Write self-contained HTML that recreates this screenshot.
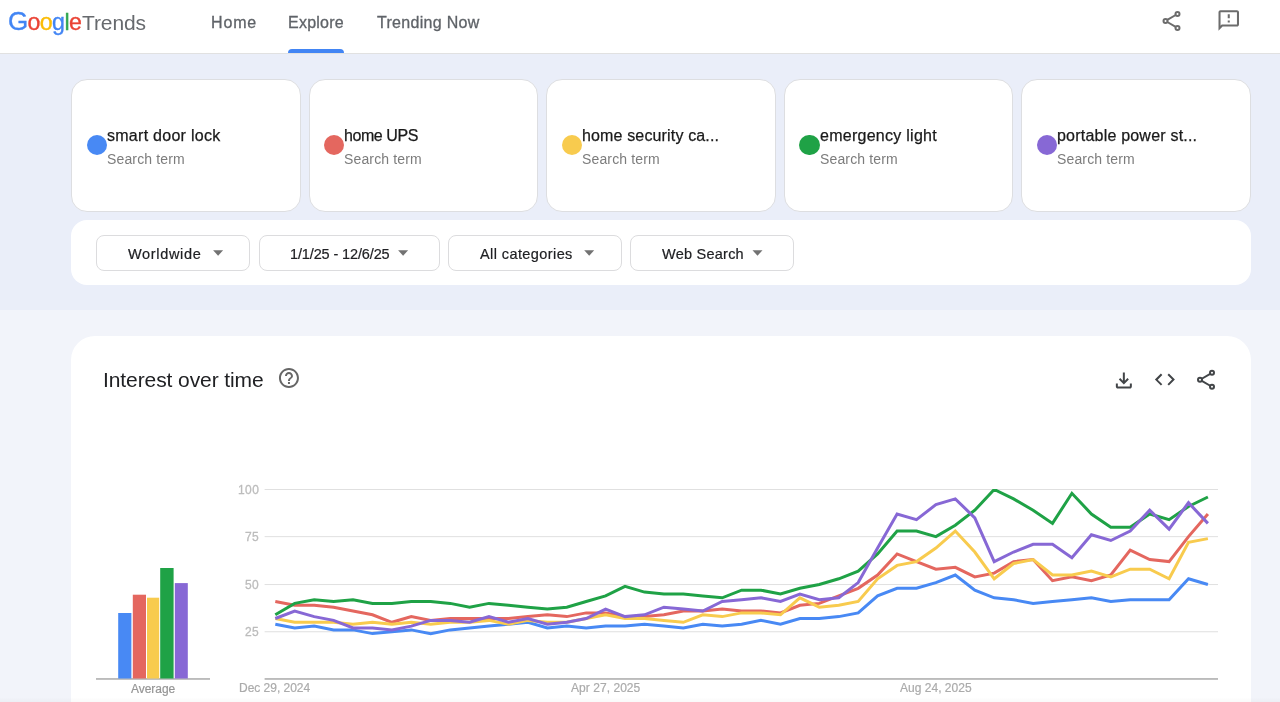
<!DOCTYPE html>
<html lang="en">
<head>
<meta charset="utf-8">
<title>Google Trends - Explore</title>
<style>
*{box-sizing:border-box;margin:0;padding:0}
html,body{width:1280px;height:702px;overflow:hidden}
body{position:relative;background:#f2f4fa;font-family:"Liberation Sans",sans-serif;color:#202124}
.t{position:absolute;white-space:nowrap;line-height:1;font-family:"Liberation Sans",sans-serif;transform:rotate(0.0001deg);transform-origin:0 0}
header{position:absolute;left:0;top:0;width:1280px;height:54px;background:#fff;border-bottom:1px solid #e1e1e1}
.uline{position:absolute;left:288.1px;top:49.3px;width:55.6px;height:4px;background:#4285f4;border-radius:4px 4px 0 0}
.band{position:absolute;left:0;top:54px;width:1280px;height:256px;background:#eaeef9}
.card{position:absolute;top:79px;width:229.6px;height:132.6px;background:#fff;border:1px solid #dddee1;border-radius:16px}
.dot{position:absolute;top:135px;width:20.3px;height:20.3px;border-radius:50%}
.fbar{position:absolute;left:71px;top:220px;width:1180px;height:65.3px;background:#fff;border-radius:16px}
.fbtn{position:absolute;top:235px;height:35.6px;border:1px solid #dcdcde;border-radius:8px;background:#fff}
.arr{position:absolute;top:250.4px;width:0;height:0;border-left:5px solid transparent;border-right:5px solid transparent;border-top:5.4px solid #757575}
.panel{position:absolute;left:71px;top:335.5px;width:1180px;height:400px;background:#fff;border-radius:24px}
.chart{position:absolute;left:0;top:0}
.ico{position:absolute;overflow:visible}
</style>
</head>
<body>
<header>
<div class="t" style="left:8.00px;top:11.33px;font-size:23.2px;letter-spacing:-0.64px"><span style="color:#4285f4;-webkit-text-stroke:0.35px #4285f4;font-size:26px;line-height:0">G</span><span style="color:#ea4335;-webkit-text-stroke:0.35px #ea4335">o</span><span style="color:#fbbc05;-webkit-text-stroke:0.35px #fbbc05">o</span><span style="color:#4285f4;-webkit-text-stroke:0.35px #4285f4">g</span><span style="color:#34a853;-webkit-text-stroke:0.35px #34a853">l</span><span style="color:#ea4335;-webkit-text-stroke:0.35px #ea4335">e</span></div>
<div class="t" style="left:82.02px;top:12.10px;font-size:21px;letter-spacing:-0.1px;color:#676a6e;">Trends</div>
<div class="t" style="left:210.67px;top:15.00px;font-size:16px;letter-spacing:0.86px;color:#5f6368;-webkit-text-stroke:0.3px #5f6368;">Home</div>
<div class="t" style="left:288.27px;top:15.00px;font-size:16px;letter-spacing:0.24px;color:#5f6368;-webkit-text-stroke:0.3px #5f6368;">Explore</div>
<div class="t" style="left:377.23px;top:15.00px;font-size:16px;letter-spacing:0.3px;color:#5f6368;-webkit-text-stroke:0.3px #5f6368;">Trending Now</div>
<div class="uline"></div>
<svg class="ico" style="left:1159px;top:8px" width="25" height="25" viewBox="0 0 25 25" fill="none" stroke="#6c6c6c" stroke-width="2"><g transform="translate(0.5 0.95)"><circle cx="18" cy="5" r="2"/><circle cx="6" cy="12" r="2"/><circle cx="18" cy="19" r="2"/><path d="M7.8 10.95L16.2 6.05M7.8 13.05L16.2 17.95"/></g></svg>
<svg class="ico" style="left:1216px;top:8px" width="25" height="25" viewBox="0 0 25 25" fill="#6c6c6c"><g transform="translate(0.75 0.3)"><path transform="translate(-0.3 -0.2) scale(1.025)" d="M20 2H4c-1.1 0-1.99.9-1.99 2L2 22l4-4h14c1.1 0 2-.9 2-2V4c0-1.1-.9-2-2-2zm0 14H5.17l-.59.59-.58.58V4h16v12zm-9-4h2v2h-2zm0-6h2v4h-2z"/></g></svg>
</header>
<div class="band"></div>
<div class="card" style="left:71.0px"></div><div class="dot" style="left:86.5px;background:#4889f4"></div>
<div class="card" style="left:308.6px"></div><div class="dot" style="left:324.1px;background:#e4675f"></div>
<div class="card" style="left:546.2px"></div><div class="dot" style="left:561.7px;background:#f8cb4e"></div>
<div class="card" style="left:783.8px"></div><div class="dot" style="left:799.3px;background:#1fa246"></div>
<div class="card" style="left:1021.4px"></div><div class="dot" style="left:1036.9px;background:#8768d5"></div>
<div class="fbar"></div>
<div class="fbtn" style="left:96.0px;width:154.3px"></div><svg class="ico" style="left:213px;top:250px" width="11" height="7" viewBox="0 0 11 7" fill="#727272"><g transform="translate(0.1 0.15)"><path d="M0 0h10L5 5.7z"/></g></svg>
<div class="fbtn" style="left:258.8px;width:180.9px"></div><svg class="ico" style="left:398px;top:250px" width="11" height="7" viewBox="0 0 11 7" fill="#727272"><g transform="translate(0.1 0.15)"><path d="M0 0h10L5 5.7z"/></g></svg>
<div class="fbtn" style="left:448.1px;width:173.5px"></div><svg class="ico" style="left:584px;top:250px" width="11" height="7" viewBox="0 0 11 7" fill="#727272"><g transform="translate(0.2 0.15)"><path d="M0 0h10L5 5.7z"/></g></svg>
<div class="fbtn" style="left:630.4px;width:163.4px"></div><svg class="ico" style="left:752px;top:250px" width="11" height="7" viewBox="0 0 11 7" fill="#727272"><g transform="translate(0.5 0.15)"><path d="M0 0h10L5 5.7z"/></g></svg>
<div class="panel"></div>
<svg class="ico" style="left:276px;top:366px" width="25" height="25" viewBox="0 0 25 25" fill="#666666"><g transform="translate(0.95 0.0)"><path d="M11 18h2v-2h-2v2zm1-16C6.48 2 2 6.48 2 12s4.48 10 10 10 10-4.48 10-10S17.520 2 12 2zm0 18c-4.410 0-8-3.590-8-8s3.590-8 8-8 8 3.590 8 8-3.590 8-8 8zm0-14c-2.210 0-4 1.790-4 4h2c0-1.100.9-2 2-2s2 .9 2 2c0 2-3 1.750-3 5h2c0-2.250 3-2.500 3-5 0-2.210-1.790-4-4-4z"/></g></svg>
<svg class="ico" style="left:1111px;top:368px" width="25" height="25" viewBox="0 0 25 25" fill="#424548"><g transform="translate(0.85 0.55)"><path d="M12 16l-5-5 1.4-1.45 2.6 2.6V4h2v8.15l2.6-2.6L17 11zm-6 4q-.825 0-1.412-.587Q4 18.825 4 18v-3h2v3h12v-3h2v3q0 .825-.587 1.413Q18.825 20 18 20z"/></g></svg>
<svg class="ico" style="left:1152px;top:367px" width="25" height="25" viewBox="0 0 25 25" fill="#424548"><g transform="translate(0.9 0.6)"><path d="M8 18l-6-6 6-6 1.425 1.425-4.6 4.6L9.4 16.6zm8 0l-1.425-1.425 4.6-4.6L14.6 7.4 16 6l6 6z"/></g></svg>
<svg class="ico" style="left:1194px;top:367px" width="25" height="25" viewBox="0 0 25 25" fill="none" stroke="#424548" stroke-width="2"><g transform="translate(0.0 0.8)"><circle cx="18" cy="5" r="2"/><circle cx="6" cy="12" r="2"/><circle cx="18" cy="19" r="2"/><path d="M7.8 10.95L16.2 6.05M7.8 13.05L16.2 17.95"/></g></svg>
<svg class="chart" width="1280" height="702" viewBox="0 0 1280 702">
<rect x="264.6" y="489.00" width="953.4" height="1" fill="#e0e0e0"/>
<rect x="264.6" y="536.15" width="953.4" height="1" fill="#e0e0e0"/>
<rect x="264.6" y="584.05" width="953.4" height="1" fill="#e0e0e0"/>
<rect x="264.6" y="631.25" width="953.4" height="1" fill="#e0e0e0"/>
<rect x="264.6" y="678.1" width="953.4" height="1.7" fill="#b4b4b4"/>
<rect x="96" y="678.1" width="114" height="1.7" fill="#b4b4b4"/>
<rect x="118.2" y="613.0" width="13.2" height="65.5" fill="#4889f4"/>
<rect x="132.8" y="594.7" width="13.2" height="83.8" fill="#e4675f"/>
<rect x="147.0" y="597.7" width="12.2" height="80.8" fill="#f8cb4e"/>
<rect x="160.2" y="568.0" width="13.4" height="110.5" fill="#1fa246"/>
<rect x="174.8" y="583.1" width="13.0" height="95.4" fill="#8768d5"/>
<svg x="264" y="489" width="956" height="191" viewBox="264 489 956 191" overflow="hidden">
<polyline points="275.3,624.2 294.7,628.0 314.2,626.1 333.6,629.9 353.0,629.9 372.5,633.6 391.9,631.8 411.3,629.9 430.7,633.6 450.2,629.9 469.6,628.0 489.0,626.1 508.5,624.2 527.9,622.3 547.3,628.0 566.8,626.1 586.2,628.0 605.6,626.1 625.0,626.1 644.5,624.2 663.9,626.1 683.3,628.0 702.8,624.2 722.2,626.1 741.6,624.2 761.0,620.4 780.5,624.2 799.9,618.5 819.3,618.5 838.8,616.6 858.2,612.9 877.6,595.9 897.1,588.3 916.5,588.3 935.9,582.6 955.3,575.0 974.8,590.2 994.2,597.8 1013.6,599.7 1033.1,603.4 1052.5,601.5 1071.9,599.7 1091.4,597.8 1110.8,601.5 1130.2,599.7 1149.7,599.7 1169.1,599.7 1188.5,578.8 1207.9,584.5" fill="none" stroke="#4889f4" stroke-width="3" stroke-linejoin="miter"/>
<polyline points="275.3,601.5 294.7,605.3 314.2,605.3 333.6,607.2 353.0,611.0 372.5,614.8 391.9,622.3 411.3,616.6 430.7,620.4 450.2,618.5 469.6,618.5 489.0,618.5 508.5,618.5 527.9,616.6 547.3,614.8 566.8,616.6 586.2,612.9 605.6,612.9 625.0,616.6 644.5,616.6 663.9,614.8 683.3,611.0 702.8,611.0 722.2,609.1 741.6,611.0 761.0,611.0 780.5,612.9 799.9,605.3 819.3,603.4 838.8,595.9 858.2,588.3 877.6,575.0 897.1,553.9 916.5,561.6 935.9,569.2 955.3,567.3 974.8,576.9 994.2,573.1 1013.6,561.6 1033.1,559.6 1052.5,580.7 1071.9,576.9 1091.4,580.7 1110.8,575.0 1130.2,550.1 1149.7,559.6 1169.1,561.6 1188.5,536.6 1207.9,514.0" fill="none" stroke="#e4675f" stroke-width="3" stroke-linejoin="miter"/>
<polyline points="275.3,618.5 294.7,622.3 314.2,622.3 333.6,622.3 353.0,624.2 372.5,622.3 391.9,624.2 411.3,622.3 430.7,624.2 450.2,622.3 469.6,622.3 489.0,620.4 508.5,624.2 527.9,620.4 547.3,622.3 566.8,622.3 586.2,618.5 605.6,614.8 625.0,618.5 644.5,618.5 663.9,620.4 683.3,622.3 702.8,614.8 722.2,616.6 741.6,612.9 761.0,612.9 780.5,614.8 799.9,597.8 819.3,607.2 838.8,605.3 858.2,601.5 877.6,578.8 897.1,565.4 916.5,561.6 935.9,548.1 955.3,531.0 974.8,552.0 994.2,578.8 1013.6,563.5 1033.1,559.6 1052.5,575.0 1071.9,575.0 1091.4,571.1 1110.8,576.9 1130.2,569.2 1149.7,569.2 1169.1,578.8 1188.5,542.4 1207.9,538.6" fill="none" stroke="#f8cb4e" stroke-width="3" stroke-linejoin="miter"/>
<polyline points="275.3,614.8 294.7,603.4 314.2,599.7 333.6,601.5 353.0,599.7 372.5,603.4 391.9,603.4 411.3,601.5 430.7,601.5 450.2,603.4 469.6,607.2 489.0,603.4 508.5,605.3 527.9,607.2 547.3,609.1 566.8,607.2 586.2,601.5 605.6,595.9 625.0,586.4 644.5,592.1 663.9,594.0 683.3,594.0 702.8,595.9 722.2,597.8 741.6,590.2 761.0,590.2 780.5,594.0 799.9,588.3 819.3,584.5 838.8,578.8 858.2,571.1 877.6,553.9 897.1,531.0 916.5,531.0 935.9,536.6 955.3,525.3 974.8,510.2 994.2,489.5 1013.6,498.9 1033.1,510.2 1052.5,523.4 1071.9,493.3 1091.4,514.0 1110.8,527.2 1130.2,527.2 1149.7,514.0 1169.1,519.7 1188.5,506.5 1207.9,497.0" fill="none" stroke="#1fa246" stroke-width="3" stroke-linejoin="miter"/>
<polyline points="275.3,618.5 294.7,611.0 314.2,616.6 333.6,620.4 353.0,628.0 372.5,628.0 391.9,629.9 411.3,626.1 430.7,620.4 450.2,620.4 469.6,622.3 489.0,616.6 508.5,622.3 527.9,618.5 547.3,624.2 566.8,622.3 586.2,618.5 605.6,609.1 625.0,616.6 644.5,614.8 663.9,607.2 683.3,609.1 702.8,611.0 722.2,601.5 741.6,599.7 761.0,597.8 780.5,601.5 799.9,594.0 819.3,599.7 838.8,597.8 858.2,582.6 877.6,548.1 897.1,514.0 916.5,519.7 935.9,504.6 955.3,498.9 974.8,517.8 994.2,561.6 1013.6,552.0 1033.1,544.3 1052.5,544.3 1071.9,557.7 1091.4,534.8 1110.8,540.5 1130.2,531.0 1149.7,510.2 1169.1,529.1 1188.5,502.7 1207.9,523.4" fill="none" stroke="#8768d5" stroke-width="3" stroke-linejoin="miter"/>
</svg>
</svg>
<div class="t" style="left:107.34px;top:127.60px;font-size:16px;letter-spacing:0.27px;color:#1a1a1a;-webkit-text-stroke:0.25px #1a1a1a;">smart door lock</div>
<div class="t" style="left:106.83px;top:152.34px;font-size:14px;letter-spacing:0.14px;color:#7c7c7c;">Search term</div>
<div class="t" style="left:344.17px;top:127.60px;font-size:16px;letter-spacing:-0.42px;color:#1a1a1a;-webkit-text-stroke:0.25px #1a1a1a;">home UPS</div>
<div class="t" style="left:344.43px;top:152.34px;font-size:14px;letter-spacing:0.14px;color:#7c7c7c;">Search term</div>
<div class="t" style="left:581.67px;top:127.60px;font-size:16px;letter-spacing:0.15px;color:#1a1a1a;-webkit-text-stroke:0.25px #1a1a1a;">home security ca...</div>
<div class="t" style="left:582.03px;top:152.34px;font-size:14px;letter-spacing:0.14px;color:#7c7c7c;">Search term</div>
<div class="t" style="left:819.77px;top:127.60px;font-size:16px;letter-spacing:0.27px;color:#1a1a1a;-webkit-text-stroke:0.25px #1a1a1a;">emergency light</div>
<div class="t" style="left:819.63px;top:152.34px;font-size:14px;letter-spacing:0.14px;color:#7c7c7c;">Search term</div>
<div class="t" style="left:1056.83px;top:127.60px;font-size:16px;letter-spacing:0.21px;color:#1a1a1a;-webkit-text-stroke:0.25px #1a1a1a;">portable power st...</div>
<div class="t" style="left:1057.23px;top:152.34px;font-size:14px;letter-spacing:0.14px;color:#7c7c7c;">Search term</div>
<div class="t" style="left:127.87px;top:246.80px;font-size:14.5px;letter-spacing:0.66px;color:#202124;-webkit-text-stroke:0.2px #202124;">Worldwide</div>
<div class="t" style="left:289.87px;top:246.80px;font-size:14.5px;letter-spacing:-0.13px;color:#202124;-webkit-text-stroke:0.2px #202124;">1/1/25 - 12/6/25</div>
<div class="t" style="left:479.54px;top:246.80px;font-size:14.5px;letter-spacing:0.41px;color:#202124;-webkit-text-stroke:0.2px #202124;">All categories</div>
<div class="t" style="left:661.97px;top:246.80px;font-size:14.5px;letter-spacing:0.24px;color:#202124;-webkit-text-stroke:0.2px #202124;">Web Search</div>
<div class="t" style="left:103.00px;top:368.50px;font-size:21px;letter-spacing:-0.09px;color:#202124;">Interest over time</div>
<div class="t" style="left:237.90px;top:484.10px;font-size:12px;letter-spacing:0.39px;color:#bcbcbc;-webkit-text-stroke:0.3px #bcbcbc;">100</div>
<div class="t" style="left:244.98px;top:531.25px;font-size:12px;letter-spacing:0.29px;color:#bcbcbc;-webkit-text-stroke:0.3px #bcbcbc;">75</div>
<div class="t" style="left:244.86px;top:579.15px;font-size:12px;letter-spacing:0.33px;color:#bcbcbc;-webkit-text-stroke:0.3px #bcbcbc;">50</div>
<div class="t" style="left:244.97px;top:626.35px;font-size:12px;letter-spacing:0.3px;color:#bcbcbc;-webkit-text-stroke:0.3px #bcbcbc;">25</div>
<div class="t" style="left:131.36px;top:682.50px;font-size:12px;letter-spacing:-0.03px;color:#969696;-webkit-text-stroke:0.2px #969696;">Average</div>
<div class="t" style="left:239.00px;top:682.20px;font-size:12px;letter-spacing:-0.02px;color:#ababab;-webkit-text-stroke:0.2px #ababab;">Dec 29, 2024</div>
<div class="t" style="left:570.96px;top:682.20px;font-size:12px;letter-spacing:0.05px;color:#ababab;-webkit-text-stroke:0.2px #ababab;">Apr 27, 2025</div>
<div class="t" style="left:900.16px;top:682.20px;font-size:12px;letter-spacing:0.02px;color:#ababab;-webkit-text-stroke:0.2px #ababab;">Aug 24, 2025</div>
<div style="position:absolute;left:0;top:698px;width:1280px;height:4px;background:linear-gradient(rgba(0,0,0,0.004),rgba(0,0,0,0.022))"></div>
</body>
</html>
